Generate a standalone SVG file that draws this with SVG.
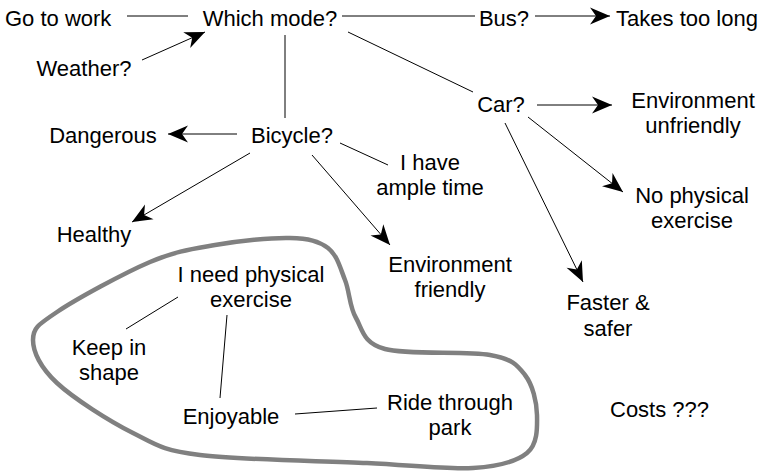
<svg xmlns="http://www.w3.org/2000/svg" width="763" height="472" viewBox="0 0 763 472">
  <style>
    text { font-family: "Liberation Sans", Arial, sans-serif; font-size: 22px; fill: #000; }
    .mid { text-anchor: middle; }
    .link { stroke: #000; stroke-width: 1; fill: none; }
    .arrow { stroke: #000; stroke-width: 1; fill: none; marker-end: url(#head); }
    .blob { stroke: #808080; stroke-width: 4.5; fill: none; stroke-linejoin: round; }
  </style>
  <defs>
    <marker id="head" markerUnits="userSpaceOnUse" viewBox="-21 -10 22 20" refX="0" refY="0" markerWidth="22" markerHeight="20" orient="auto">
      <path d="M0,0 L-20,-8.5 L-14,0 L-20,8.5 Z" fill="#000"/>
    </marker>
  </defs>

  <rect width="763" height="472" fill="#fff"/>

  <!-- outline grouping the cycling motives -->
  <path id="cluster" class="blob" d="M33,340 C33,328.2 37.5,325 57,312 C76.5,299 123.7,273.2 150,262 C176.3,250.8 191.7,249 215,245 C238.3,241 271.2,237.5 290,238 C308.8,238.5 318.8,241 328,248 C337.2,255 340.3,268.3 345,280 C349.7,291.7 349.3,306.5 356,318 C362.7,329.5 362.7,342.8 385,349 C407.3,355.2 466.7,350.7 490,355 C513.3,359.3 517.2,365 525,375 C532.8,385 536.7,402 537,415 C537.3,428 537.7,444.2 527,453 C516.3,461.8 499.7,466.3 473,468 C446.3,469.7 412.5,465.2 367,463 C321.5,460.8 239,460 200,455 C161,450 156.8,445 133,433 C109.2,421 73.7,398.5 57,383 C40.3,367.5 33,351.8 33,340 Z"/>

  <!-- connectors -->
  <g id="connectors">
    <line class="link" x1="127" y1="16" x2="188" y2="16"/>
    <line class="arrow" x1="142" y1="60" x2="205" y2="32"/>
    <line class="link" x1="342" y1="16" x2="475" y2="16"/>
    <line class="arrow" x1="535" y1="16" x2="610" y2="16"/>
    <line class="link" x1="348" y1="32" x2="473" y2="92"/>
    <line class="link" x1="285" y1="35" x2="285" y2="118"/>
    <line class="arrow" x1="537" y1="105" x2="612" y2="105"/>
    <line class="arrow" x1="528" y1="117" x2="623" y2="192"/>
    <line class="arrow" x1="505" y1="123" x2="583" y2="282"/>
    <line class="arrow" x1="237" y1="134" x2="168" y2="134"/>
    <line class="link" x1="340" y1="143" x2="388" y2="165"/>
    <line class="arrow" x1="250" y1="153" x2="132" y2="222"/>
    <line class="arrow" x1="312" y1="155" x2="390" y2="245"/>
    <line class="link" x1="126" y1="329" x2="178" y2="297"/>
    <line class="link" x1="227" y1="315" x2="220" y2="398"/>
    <line class="link" x1="295" y1="414" x2="377" y2="408"/>
  </g>

  <!-- nodes -->
  <g id="go-to-work"><text x="5" y="26">Go to work</text></g>
  <g id="which-mode"><text class="mid" x="270" y="26">Which mode?</text></g>
  <g id="bus"><text class="mid" x="504" y="26">Bus?</text></g>
  <g id="takes-too-long"><text class="mid" x="687" y="26">Takes too long</text></g>
  <g id="weather"><text class="mid" x="84" y="76">Weather?</text></g>
  <g id="car"><text class="mid" x="501" y="112">Car?</text></g>
  <g id="env-unfriendly"><text class="mid" x="693" y="108">Environment</text><text class="mid" x="693" y="133">unfriendly</text></g>
  <g id="dangerous"><text class="mid" x="103" y="143">Dangerous</text></g>
  <g id="bicycle"><text class="mid" x="292" y="143">Bicycle?</text></g>
  <g id="ample-time"><text class="mid" x="430" y="170">I have</text><text class="mid" x="430" y="195">ample time</text></g>
  <g id="no-exercise"><text class="mid" x="692" y="203">No physical</text><text class="mid" x="692" y="228">exercise</text></g>
  <g id="healthy"><text class="mid" x="94" y="242">Healthy</text></g>
  <g id="env-friendly"><text class="mid" x="450" y="272">Environment</text><text class="mid" x="450" y="297">friendly</text></g>
  <g id="faster-safer"><text class="mid" x="608" y="310">Faster &amp;</text><text class="mid" x="608" y="336">safer</text></g>
  <g id="need-exercise"><text class="mid" x="251" y="282">I need physical</text><text class="mid" x="251" y="307">exercise</text></g>
  <g id="keep-in-shape"><text class="mid" x="109" y="355">Keep in</text><text class="mid" x="109" y="380">shape</text></g>
  <g id="enjoyable"><text class="mid" x="231" y="424">Enjoyable</text></g>
  <g id="ride-park"><text class="mid" x="450" y="410">Ride through</text><text class="mid" x="450" y="435">park</text></g>
  <g id="costs"><text x="610" y="417">Costs ???</text></g>
</svg>
